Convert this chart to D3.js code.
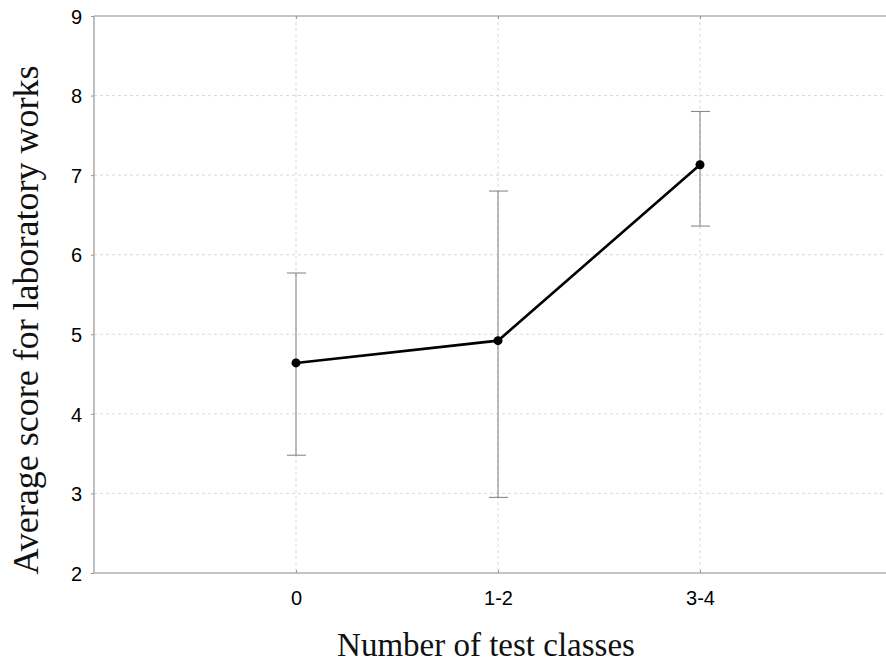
<!DOCTYPE html>
<html><head><meta charset="utf-8">
<script src="https://cdn.jsdelivr.net/npm/d3@7"></script>
<style>html,body{margin:0;padding:0;background:#fff;overflow:hidden}</style>
</head><body>
<script>
const categories = ["0", "1-2", "3-4"];
const means = [4.64, 4.92, 7.13];
const upper = [5.77, 6.80, 7.80];
const lower = [3.48, 2.95, 6.36];
const yTicks = [2, 3, 4, 5, 6, 7, 8, 9];

const W = 886, H = 663;
const svg = d3.select("body").append("svg").attr("width", W).attr("height", H);

const x = d3.scaleLinear().domain([-1, 3]).range([94, 902]);
const y = d3.scaleLinear().domain([2, 9]).range([573, 16]);
const idx = categories.map((c, i) => i);

// grid
svg.append("g").selectAll("line").data(yTicks.slice(1, -1)).join("line")
  .attr("x1", x(-1)).attr("x2", W).attr("y1", d => y(d)).attr("y2", d => y(d))
  .attr("stroke", "#d9d9d9").attr("stroke-width", 1).attr("stroke-dasharray", "3,3");
svg.append("g").selectAll("line").data(idx).join("line")
  .attr("x1", d => x(d)).attr("x2", d => x(d)).attr("y1", y(9)).attr("y2", y(2))
  .attr("stroke", "#d9d9d9").attr("stroke-width", 1).attr("stroke-dasharray", "3,3");

// axes
const yAxis = d3.axisLeft(y).tickValues(yTicks).tickSize(3).tickPadding(9).tickFormat(d3.format("d"));
const gy = svg.append("g").attr("transform", `translate(${x(-1)},0)`).call(yAxis);
const xAxis = d3.axisBottom(x).tickValues(idx).tickSize(-3).tickPadding(18).tickFormat(i => categories[i]);
const gx = svg.append("g").attr("transform", `translate(0,${y(2)})`).call(xAxis);
const gt = svg.append("g").attr("transform", `translate(0,${y(9)})`).call(d3.axisTop(x).tickValues(idx).tickSize(-3).tickFormat(""));
[gy, gx, gt].forEach(g => {
  g.select(".domain").attr("stroke", "#b0b0b0").attr("stroke-width", 1.6);
  g.selectAll(".tick line").attr("stroke", "#999");
  g.selectAll("text").attr("fill", "#000").style("font-family", "'Liberation Sans', Arial, sans-serif").style("font-size", "20px");
});
gy.select(".domain").attr("d", `M0,${y(9)}V${y(2)}`);
gx.select(".domain").attr("d", `M${x(-1)},0H${W}`);
gt.select(".domain").attr("d", `M${x(-1)},0H${W}`);
gy.selectAll(".tick text").attr("dy", "0.36em");

// error bars
const eb = svg.append("g").attr("stroke", "#8a8a8a").attr("stroke-width", 1.1);
eb.selectAll("line.v").data(idx).join("line").attr("class", "v")
  .attr("x1", i => x(i)).attr("x2", i => x(i)).attr("y1", i => y(upper[i])).attr("y2", i => y(lower[i]));
eb.selectAll("line.u").data(idx).join("line").attr("class", "u")
  .attr("x1", i => x(i) - 9).attr("x2", i => x(i) + 10).attr("y1", i => y(upper[i])).attr("y2", i => y(upper[i]));
eb.selectAll("line.l").data(idx).join("line").attr("class", "l")
  .attr("x1", i => x(i) - 9).attr("x2", i => x(i) + 10).attr("y1", i => y(lower[i])).attr("y2", i => y(lower[i]));

// line
svg.append("path").datum(idx)
  .attr("d", d3.line().x(i => x(i)).y(i => y(means[i])))
  .attr("fill", "none").attr("stroke", "#000").attr("stroke-width", 2.6);
svg.append("g").selectAll("circle").data(idx).join("circle")
  .attr("cx", i => x(i)).attr("cy", i => y(means[i])).attr("r", 4.5).attr("fill", "#000");

// titles
svg.append("text").attr("x", 486).attr("y", 656).attr("text-anchor", "middle")
  .style("font-family", "'Liberation Serif', 'Times New Roman', serif").style("font-size", "33px").attr("fill", "#111")
  .text("Number of test classes");
svg.append("text").attr("transform", "translate(38,320) rotate(-90)").attr("text-anchor", "middle")
  .style("font-family", "'Liberation Serif', 'Times New Roman', serif").style("font-size", "36px").attr("fill", "#111")
  .text("Average score for laboratory works");
</script>
</body></html>
